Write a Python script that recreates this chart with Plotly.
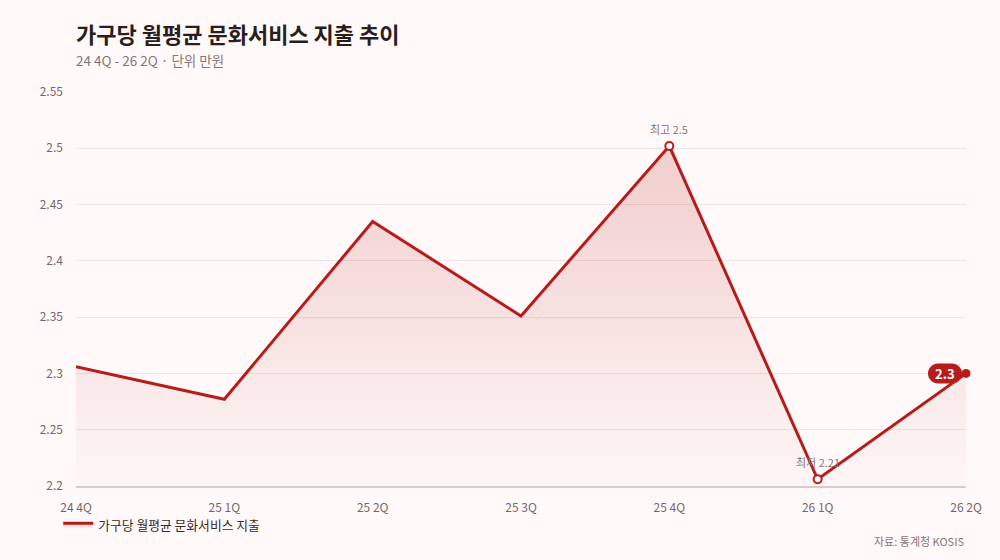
import plotly.graph_objects as go

categories = ["24 4Q", "25 1Q", "25 2Q", "25 3Q", "25 4Q", "26 1Q", "26 2Q"]
values = [2.306, 2.277, 2.435, 2.351, 2.502, 2.206, 2.30]
series_name = "가구당 월평균 문화서비스 지출"
y_ticks = [2.2, 2.25, 2.3, 2.35, 2.4, 2.45, 2.5, 2.55]

RED = "#b71c1c"
BG = "#fffaf9"
FONT = "Noto Sans CJK KR"

imax = values.index(max(values))
imin = values.index(min(values))

fig = go.Figure()
fig.add_trace(go.Scatter(
    x=categories, y=values, mode="lines", name=series_name,
    line=dict(color=RED, width=3),
    fill="tozeroy",
    fillgradient=dict(type="vertical", start=2.2, stop=max(values),
                      colorscale=[[0, "rgba(183,28,28,0.02)"], [1, "rgba(183,28,28,0.20)"]]),
    hoverinfo="x+y",
))
fig.add_trace(go.Scatter(
    x=[categories[imax], categories[imin]], y=[values[imax], values[imin]],
    mode="markers", showlegend=False, cliponaxis=False,
    marker=dict(size=8, color="white", line=dict(color=RED, width=2)),
))
fig.add_trace(go.Scatter(
    x=[categories[-1]], y=[values[-1]], mode="markers", showlegend=False, cliponaxis=False,
    marker=dict(size=9, color=RED),
))

# rounded pill behind the last-value label (pixel offsets from the last point)
k = 0.5523 * 10
pill = (f"M -28,-10 L -14,-10 C {-14 + k},-10 -4,{-k} -4,0 C -4,{k} {-14 + k},10 -14,10 "
        f"L -28,10 C {-28 - k},10 -38,{k} -38,0 C -38,{-k} {-28 - k},-10 -28,-10 Z")
shapes = [dict(type="path", xref="x", yref="y", xsizemode="pixel", ysizemode="pixel",
               xanchor=categories[-1], yanchor=values[-1], path=pill,
               fillcolor=RED, line=dict(width=0), layer="above")]

annotations = [
    dict(x=categories[imax], y=values[imax], text=f"최고 {values[imax]:.1f}", showarrow=False,
         yshift=17, font=dict(size=11, color="#8a7575", family=FONT)),
    dict(x=categories[imin], y=values[imin], text=f"최저 {values[imin]:.2f}", showarrow=False,
         yshift=17, font=dict(size=11, color="#8a7575", family=FONT)),
    dict(x=categories[-1], y=values[-1], text=f"<b>{values[-1]:.1f}</b>", showarrow=False,
         xanchor="center", xshift=-21, yshift=0,
         font=dict(size=13, color="white", family=FONT)),
    dict(xref="paper", yref="paper", x=0, y=1.15, xanchor="left", yanchor="middle", xshift=-2,
         text="<b>가구당 월평균 문화서비스 지출 추이</b>", showarrow=False,
         font=dict(size=22, color="#2b1d1d", family=FONT)),
    dict(xref="paper", yref="paper", x=0, y=1.081, xanchor="left", yanchor="middle", xshift=-2,
         text="24 4Q - 26 2Q · 단위 만원", showarrow=False,
         font=dict(size=13.5, color="#8a7575", family=FONT)),
    dict(xref="paper", yref="paper", x=1, y=-0.14, xanchor="right", yanchor="middle",
         text="자료: 통계청 KOSIS", showarrow=False,
         font=dict(size=11, color="#8a7575", family=FONT)),
]

fig.update_layout(
    width=1000, height=560,
    paper_bgcolor=BG, plot_bgcolor=BG,
    margin=dict(l=76, r=34, t=92, b=74),
    font=dict(family=FONT, color="#7a6565", size=12),
    annotations=annotations,
    shapes=shapes,
    showlegend=True,
    legend=dict(orientation="h", x=-0.02, xanchor="left", y=-0.1, yanchor="middle",
                font=dict(size=12.8, color="#3a2a2a", family=FONT), bgcolor="rgba(0,0,0,0)"),
    xaxis=dict(type="category", range=[0, len(categories) - 1], showgrid=False,
               showline=True, linecolor="#dccaca", linewidth=2,
               ticks="", ticklabelstandoff=10, tickfont=dict(size=12, color="#7a6565"),
               zeroline=False),
    yaxis=dict(range=[2.2, 2.55], tickvals=y_ticks, ticktext=[f"{v:g}" for v in y_ticks],
               showgrid=True, gridcolor="#f3e4e4", gridwidth=1, zeroline=False,
               showline=False, ticks="", ticklabelstandoff=12,
               tickfont=dict(size=12, color="#7a6565")),
)

fig.write_html("out.html", post_script="document.body.style.margin='0';",
               config={"displayModeBar": False})
